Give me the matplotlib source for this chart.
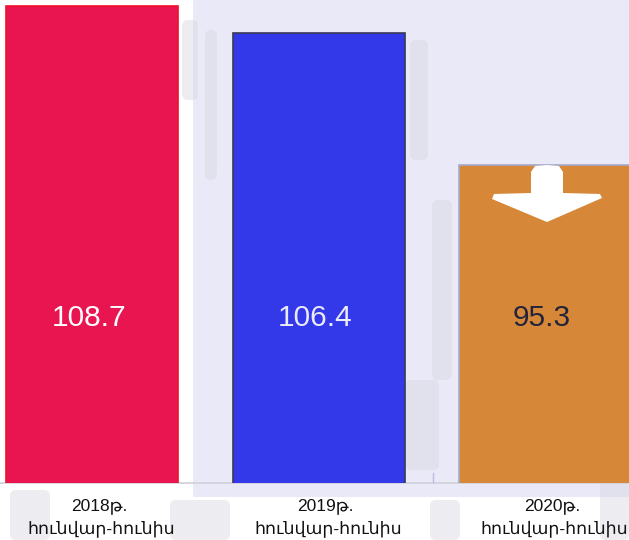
import matplotlib
matplotlib.use("Agg")
import matplotlib.pyplot as plt
from matplotlib.patches import Rectangle, Polygon, FancyBboxPatch
from matplotlib import transforms

# Data
years = ["2018թ.", "2019թ.", "2020թ."]
period = "հունվար-հունիս"
values = [108.7, 106.4, 95.3]
value_labels = ["108.7", "106.4", "95.3"]
bar_colors = ["#E91550", "#3338E8", "#D68838"]
edge_colors = ["#F0102A", "#3A3A55", "#A4AACC"]
label_colors = ["#FFFFFF", "#EAEAF8", "#23233A"]

W, H = 629, 540
fig = plt.figure(figsize=(W / 100, H / 100), dpi=100)
fig.patch.set_facecolor("white")

# decorative background: faint watermark blobs and lavender panel
bgax = fig.add_axes([0, 0, 1, 1])
bgax.set_xlim(0, W)
bgax.set_ylim(H, 0)
bgax.axis("off")
bgax.add_patch(Rectangle((193, 0), W - 193, 496.5, facecolor="#E9E9F8", edgecolor="none"))
blobs = [(182, 20, 16, 80), (205, 30, 12, 150), (410, 40, 18, 120), (432, 200, 20, 180),
         (405, 380, 34, 90), (10, 490, 40, 50), (170, 500, 60, 40), (600, 480, 29, 60),
         (430, 500, 30, 40)]
for (bx, by, bw, bh) in blobs:
    bgax.add_patch(FancyBboxPatch((bx, by), bw, bh, boxstyle="round,pad=0,rounding_size=6",
                                  facecolor="#D8D8E2", edgecolor="none", alpha=0.45))
bgax.plot([0, W], [483.3, 483.3], color="#D0D0DA", lw=1.2)
bgax.plot([433, 433], [473, 482], color="#B8BEE0", lw=1)

# main axes
ax = fig.add_axes([0, 57.5 / H, 1, 482.5 / H])
ax.patch.set_alpha(0)
x = list(range(len(values)))
ax.bar(x, values, width=0.758, color=bar_colors, edgecolor=edge_colors, linewidth=1.2, zorder=3)
ax.set_xlim(-0.4073, 2.37)
ax.set_ylim(68.51, 109.2)
ax.axis("off")

blend = transforms.blended_transform_factory(ax.transData, ax.transAxes)
for i, (lab, c) in enumerate(zip(value_labels, label_colors)):
    ax.text(i - 0.015, 0.341, lab, transform=blend, ha="center", va="center", fontsize=21.5,
            color=c, family=["Liberation Sans", "DejaVu Sans"], zorder=5)

# category labels
for i, yr in enumerate(years):
    ax.text(i + 0.03, -0.049, yr, transform=blend, ha="center", va="center", fontsize=12.5,
            color="#111111", family=["Liberation Sans", "DejaVu Sans"], clip_on=False)
    ax.text(i + 0.04, -0.096, period, transform=blend, ha="center", va="center", fontsize=12.5,
            color="#111111", family=["Liberation Sans", "DejaVu Sans"], clip_on=False)

# white down arrow on the 2020 bar
arrow_pts = [(531, 172), (535, 166), (547, 165), (559, 166), (563, 172), (563, 193),
             (600, 194), (602, 198), (547, 222), (492, 199), (494, 194), (531, 193)]
topax = fig.add_axes([0, 0, 1, 1])
topax.set_xlim(0, W)
topax.set_ylim(H, 0)
topax.axis("off")
topax.patch.set_alpha(0)
topax.add_patch(Polygon(arrow_pts, closed=True, facecolor="white", edgecolor="none"))

fig.savefig("out.png", dpi=100)
